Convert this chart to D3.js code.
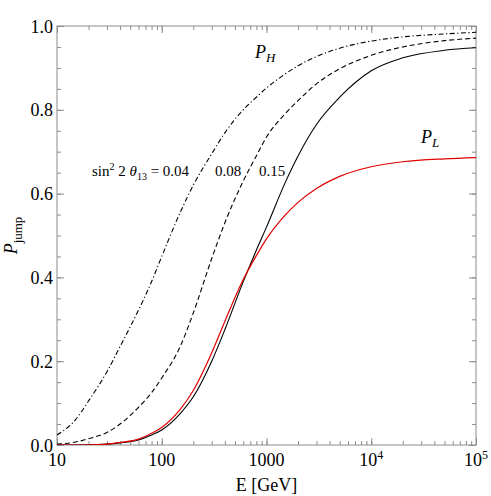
<!DOCTYPE html>
<html>
<head>
<meta charset="utf-8">
<script src="https://cdn.jsdelivr.net/npm/d3@7"></script>
<style>
body { margin: 0; background: #fff; }
text { font-family: "Liberation Serif", "Times New Roman", serif; fill: #000; }
</style>
</head>
<body>
<script>
// energies (GeV) and jump probabilities
var energy = [10, 15, 20, 30, 40, 60, 80, 100, 150, 200, 300, 400, 600, 800, 1000, 1500, 2000, 3000, 5000, 1e4, 2e4, 5e4, 1e5];
var pH004 = [0.024, 0.06, 0.105, 0.175, 0.235, 0.322, 0.39, 0.45, 0.555, 0.62, 0.695, 0.745, 0.80, 0.83, 0.852, 0.885, 0.905, 0.927, 0.947, 0.964, 0.974, 0.981, 0.985];
var pH008 = [0.002, 0.007, 0.015, 0.03, 0.05, 0.09, 0.125, 0.16, 0.235, 0.315, 0.445, 0.53, 0.63, 0.69, 0.735, 0.79, 0.822, 0.862, 0.898, 0.93, 0.95, 0.965, 0.971];
var pH015 = [0, 0, 0.0003, 0.002, 0.005, 0.012, 0.024, 0.036, 0.075, 0.115, 0.2, 0.275, 0.39, 0.465, 0.52, 0.625, 0.69, 0.765, 0.83, 0.893, 0.924, 0.942, 0.948];
var pL015 = [0, 0, 0.0004, 0.002, 0.006, 0.014, 0.028, 0.042, 0.085, 0.13, 0.22, 0.295, 0.395, 0.452, 0.492, 0.548, 0.579, 0.612, 0.641, 0.664, 0.676, 0.683, 0.686];

var yTicks = [0, 0.2, 0.4, 0.6, 0.8, 1.0];
var xTicks = [10, 100, 1000, 1e4, 1e5];
var xTickBase = ["10", "100", "1000", "10", "10"];
var xTickSup = ["", "", "", "4", "5"];
var thetaValues = ["0.08", "0.15"];

var W = 491, H = 496;
var pLeft = 57, pRight = 476, pTop = 26, pBottom = 445;

var svg = d3.select("body").append("svg")
    .attr("width", W)
    .attr("height", H);

var x = d3.scaleLog().domain([10, 1e5]).range([pLeft, pRight]);
var y = d3.scaleLinear().domain([0, 1]).range([pBottom, pTop]);

// minor ticks
var yMinor = d3.range(0, 1.0001, 0.05);
var xMinor = [];
for (var d = 10; d < 1e5; d *= 10) {
    for (var k = 1; k < 10; k++) xMinor.push(d * k);
}
xMinor.push(1e5);

var tickCol = "#8c8c8c";
function styleAxis(g) {
    g.select(".domain").remove();
    g.selectAll("line").attr("stroke", tickCol).attr("stroke-width", 1);
    g.selectAll("text").remove();
}
svg.append("g").attr("transform", "translate(" + pLeft + ",0)")
    .call(d3.axisLeft(y).tickValues(yTicks).tickSize(-7)).call(styleAxis);
svg.append("g").attr("transform", "translate(" + pLeft + ",0)")
    .call(d3.axisLeft(y).tickValues(yMinor).tickSize(-4)).call(styleAxis);
svg.append("g").attr("transform", "translate(" + pRight + ",0)")
    .call(d3.axisRight(y).tickValues(yTicks).tickSize(-7)).call(styleAxis);
svg.append("g").attr("transform", "translate(" + pRight + ",0)")
    .call(d3.axisRight(y).tickValues(yMinor).tickSize(-4)).call(styleAxis);
svg.append("g").attr("transform", "translate(0," + pBottom + ")")
    .call(d3.axisBottom(x).tickValues(xTicks).tickSize(-7)).call(styleAxis);
svg.append("g").attr("transform", "translate(0," + pBottom + ")")
    .call(d3.axisBottom(x).tickValues(xMinor).tickSize(-4)).call(styleAxis);
svg.append("g").attr("transform", "translate(0," + pTop + ")")
    .call(d3.axisTop(x).tickValues(xTicks).tickSize(-7)).call(styleAxis);
svg.append("g").attr("transform", "translate(0," + pTop + ")")
    .call(d3.axisTop(x).tickValues(xMinor).tickSize(-4)).call(styleAxis);

// frame
svg.append("rect")
    .attr("x", pLeft).attr("y", pTop)
    .attr("width", pRight - pLeft).attr("height", pBottom - pTop)
    .attr("fill", "none")
    .attr("stroke", tickCol)
    .attr("stroke-width", 1);

// tick labels
svg.selectAll(".ylab").data(yTicks).enter().append("text")
    .attr("x", pLeft - 4)
    .attr("y", d => y(d) + 6.5)
    .attr("text-anchor", "end")
    .style("font-size", "18px")
    .text(d => d.toFixed(1));

var xl = svg.selectAll(".xlab").data(xTicks).enter().append("text")
    .attr("x", d => x(d))
    .attr("y", pBottom + 21)
    .attr("text-anchor", "middle")
    .style("font-size", "18px");
xl.append("tspan").text((d, i) => xTickBase[i]);
xl.append("tspan").attr("dy", -7).style("font-size", "12px").text((d, i) => xTickSup[i]);

// axis titles
svg.append("text")
    .attr("x", (pLeft + pRight) / 2)
    .attr("y", 491)
    .attr("text-anchor", "middle")
    .style("font-size", "18px")
    .text("E [GeV]");

var yt = svg.append("text")
    .attr("transform", "translate(17," + ((pTop + pBottom) / 2) + ") rotate(-90)")
    .attr("text-anchor", "middle")
    .style("font-size", "18px");
yt.append("tspan").style("font-style", "italic").text("P");
yt.append("tspan").attr("dy", 5).style("font-size", "13px").text("jump");

// curves
svg.append("clipPath").attr("id", "clip")
    .append("rect").attr("x", pLeft).attr("y", pTop - 2)
    .attr("width", pRight - pLeft).attr("height", pBottom - pTop + 2);

var line = d3.line()
    .x((d, i) => x(energy[i]))
    .y(d => y(d))
    .curve(d3.curveMonotoneX);

var plot = svg.append("g").attr("clip-path", "url(#clip)");
plot.append("path").attr("d", line(pH004))
    .attr("fill", "none").attr("stroke", "#000").attr("stroke-width", 1.1)
    .attr("stroke-dasharray", "5,2.5,1.2,2.5");
plot.append("path").attr("d", line(pH008))
    .attr("fill", "none").attr("stroke", "#000").attr("stroke-width", 1.1)
    .attr("stroke-dasharray", "5,3");
plot.append("path").attr("d", line(pH015))
    .attr("fill", "none").attr("stroke", "#000").attr("stroke-width", 1.1);
plot.append("path").attr("d", line(pL015))
    .attr("fill", "none").attr("stroke", "#e00000").attr("stroke-width", 1.2);

// annotations
var sinText = svg.append("text")
    .attr("x", 92).attr("y", 176)
    .style("font-size", "15px");
sinText.append("tspan").text("sin");
sinText.append("tspan").attr("dy", -6).style("font-size", "10px").text("2");
sinText.append("tspan").attr("dy", 6).text(" 2 ");
sinText.append("tspan").style("font-style", "italic").text("θ");
sinText.append("tspan").attr("dy", 4).style("font-size", "10px").text("13");
sinText.append("tspan").attr("dy", -4).text(" =  0.04");

svg.selectAll(".theta").data(thetaValues).enter().append("text")
    .attr("x", (d, i) => [215, 259][i])
    .attr("y", 176)
    .style("font-size", "15px")
    .text(d => d);

var ph = svg.append("text").attr("x", 255).attr("y", 58).style("font-size", "18px");
ph.append("tspan").style("font-style", "italic").text("P");
ph.append("tspan").attr("dy", 4).style("font-size", "13px").style("font-style", "italic").text("H");

var pl = svg.append("text").attr("x", 421).attr("y", 143).style("font-size", "18px");
pl.append("tspan").style("font-style", "italic").text("P");
pl.append("tspan").attr("dy", 4).style("font-size", "13px").style("font-style", "italic").text("L");
</script>
</body>
</html>
